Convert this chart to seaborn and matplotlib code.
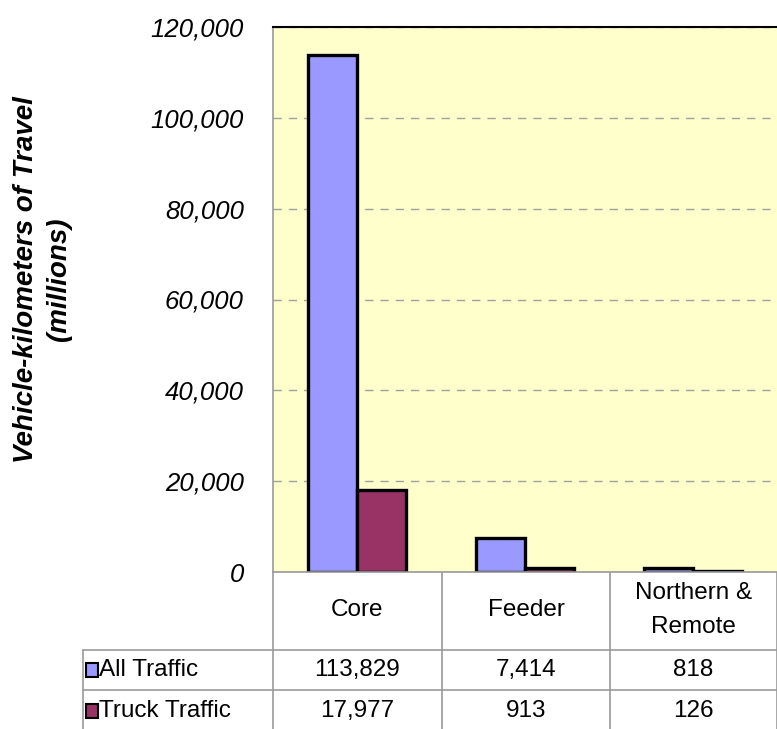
import matplotlib
matplotlib.use("Agg")
import matplotlib.pyplot as plt
import seaborn as sns
import pandas as pd
from matplotlib.patches import Rectangle

categories = ["Core", "Feeder", "Northern &\nRemote"]
series = ["All Traffic", "Truck Traffic"]
all_traffic = [113829, 7414, 818]
truck_traffic = [17977, 913, 126]
colors = ["#9999FF", "#993366"]

df = pd.DataFrame({
    "Category": categories * 2,
    "Series": [series[0]] * 3 + [series[1]] * 3,
    "Value": all_traffic + truck_traffic,
})

sns.set_style("white")
plt.rcParams["font.family"] = ["Liberation Sans", "DejaVu Sans"]
plt.rcParams["text.color"] = "black"
plt.rcParams["ytick.color"] = "black"

W, H = 777, 729
fig = plt.figure(figsize=(W / 100, H / 100), dpi=100)

# main plot area (pixel coords converted to figure fractions)
left, right, top, bottom = 273, 777, 27, 572
ax = fig.add_axes([left / W, 1 - bottom / H, (right - left) / W, (bottom - top) / H])
ax.set_facecolor("#FFFFCC")
sns.barplot(data=df, x="Category", y="Value", hue="Series", palette=colors,
            width=0.58, edgecolor="black", linewidth=2.4, saturation=1,
            legend=False, ax=ax)
ax.set_ylim(0, 120000)
ax.set_xlim(-0.5, 2.5)
ax.set_yticks(range(0, 120001, 20000))
ax.set_yticklabels([f"{v:,}" for v in range(0, 120001, 20000)],
                   fontsize=18.5, style="italic", color="black")
ax.tick_params(axis="y", length=0, pad=21)
ax.set_xticks([])
ax.set_xlabel("")
ax.set_ylabel("")
ax.yaxis.grid(True, linestyle=(0, (6, 5)), color="#A0A0A0", linewidth=1)
ax.set_axisbelow(True)
for s in ["left", "bottom"]:
    ax.spines[s].set_color("#999999")
    ax.spines[s].set_linewidth(1.2)
ax.spines["top"].set_color("black")
ax.spines["top"].set_linewidth(1.5)
ax.spines["right"].set_visible(False)

fig.text(26 / W, 1 - 280 / H, "Vehicle-kilometers of Travel", rotation=90,
         ha="center", va="center", fontsize=20, fontweight="bold", style="italic")
fig.text(59 / W, 1 - 279 / H, "(millions)", rotation=90,
         ha="center", va="center", fontsize=20, fontweight="bold", style="italic")

# data table below the plot
tab = fig.add_axes([0, 0, 1, 1 - bottom / H])
tab.set_xlim(0, W)
tab.set_ylim(H, bottom)
tab.axis("off")
grid = "#999999"
col_edges = [273, 442, 610, 777]
for x in col_edges:
    tab.plot([x, x], [bottom, H], color=grid, lw=1.2)
tab.plot([83, 83], [650, H], color=grid, lw=1.2)
tab.plot([83, 777], [650, 650], color=grid, lw=1.2)
tab.plot([83, 777], [690, 690], color=grid, lw=1.2)

fs = 17.5
for i, cat in enumerate(categories):
    cx = (col_edges[i] + col_edges[i + 1]) / 2
    tab.text(cx, 610, cat, ha="center", va="center", fontsize=fs, linespacing=1.75)
    tab.text(cx, 670, f"{all_traffic[i]:,}", ha="center", va="center", fontsize=fs)
    tab.text(cx, 711, f"{truck_traffic[i]:,}", ha="center", va="center", fontsize=fs)

for j, (name, rowy) in enumerate(zip(series, [670, 711])):
    tab.add_patch(Rectangle((86, rowy - 7), 12, 14, facecolor=colors[j],
                            edgecolor="black", lw=1.5))
    tab.text(99, rowy, name, ha="left", va="center", fontsize=fs)

fig.savefig("out.png", dpi=100)
